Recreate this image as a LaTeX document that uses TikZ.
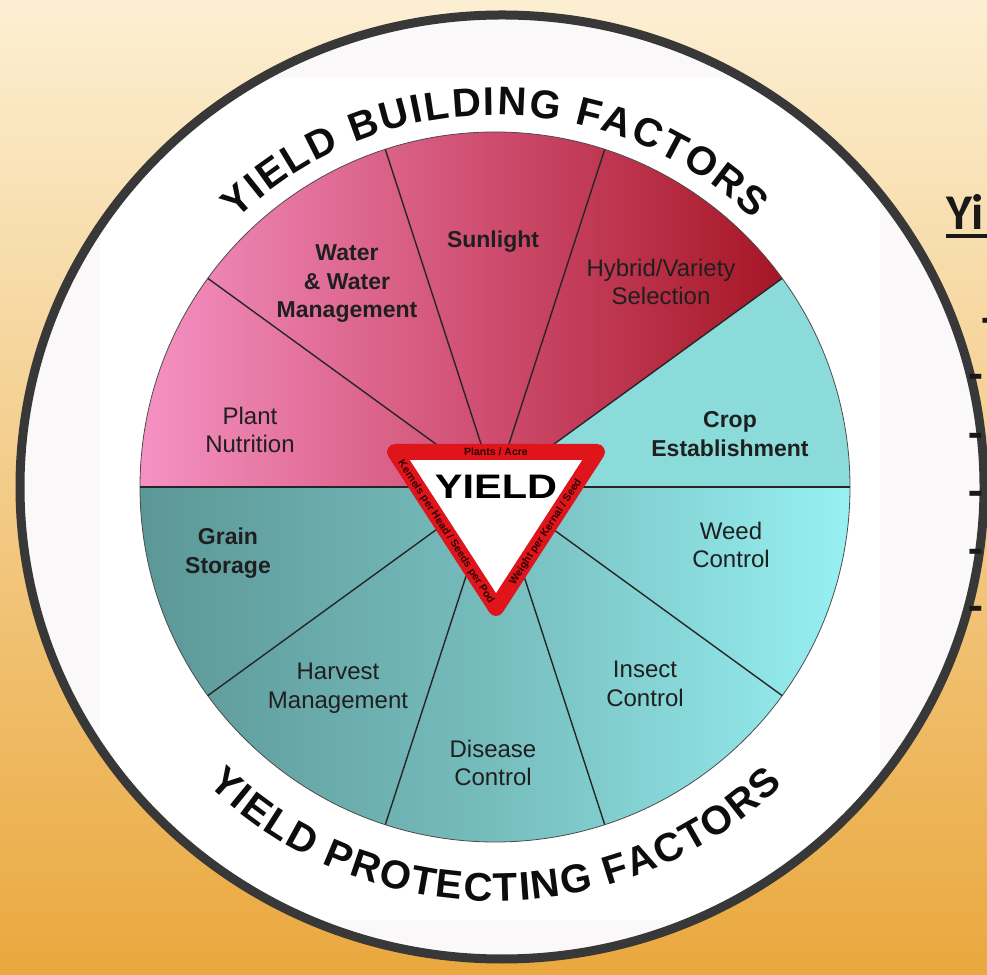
\documentclass[tikz,border=0pt]{standalone}
\usepackage{fontspec}
\setmainfont{Liberation Sans}
\newfontfamily\slidefont{Carlito}
\usetikzlibrary{decorations.text}

\definecolor{goldlight}{HTML}{FCEFD2}
\definecolor{goldmid}{HTML}{F6D38A}
\definecolor{golddark}{HTML}{EAA83E}
\definecolor{ringgray}{HTML}{383838}
\definecolor{paper}{HTML}{FAF8F9}
\definecolor{pinklight}{HTML}{F592C4}
\definecolor{pinkmid}{HTML}{CE4C6E}
\definecolor{reddark}{HTML}{9C0812}
\definecolor{tealdark}{HTML}{5C9797}
\definecolor{tealmid}{HTML}{77BDBE}
\definecolor{teallight}{HTML}{97F0F2}
\definecolor{cropcyan}{HTML}{8CDBDB}
\definecolor{signred}{HTML}{E0141B}
\definecolor{labelink}{HTML}{1F1F1F}
\definecolor{bandink}{HTML}{2A0404}

\tikzset{
  factor/.style={align=center, text=labelink, inner sep=0pt,
    font=\fontsize{24}{28.5}\selectfont},
  factorbold/.style={factor, font=\fontsize{23}{28.5}\selectfont\bfseries},
  divider/.style={line width=1.4, black!85},
  bandtext/.style={text=bandink, inner sep=0pt,
    font=\fontsize{10.5}{11}\selectfont\bfseries},
  dashmark/.style={anchor=mid, inner sep=0pt, text=black!90,
    font=\slidefont\bfseries\fontsize{48}{48}\selectfont}
}

\begin{document}
\begin{tikzpicture}[x=1pt, y=1pt]

    % Background
    \useasboundingbox (0,0) rectangle (987,974);
    \shade[top color=goldlight, middle color=goldmid, bottom color=golddark] (0,0) rectangle (987,974);

    % White disc with the ring
    \fill[paper] (502,487) ellipse [x radius=482, y radius=472];
    \begin{scope}
        \clip (502,487) ellipse [x radius=482, y radius=472];
        \fill[white] (100,54) rectangle (880,896);
    \end{scope}
    \draw[ringgray, line width=9] (502,487) ellipse [x radius=482, y radius=472];

    % Wheel
    \coordinate (c) at (495,487);
    \begin{scope}
        \clip (c) -- ++(36:355) arc[start angle=36, end angle=180, radius=355] -- cycle;
        \shade[left color=pinklight, right color=reddark, middle color=pinkmid] (140,487) rectangle (850,842);
    \end{scope}
    \begin{scope}
        \clip (c) -- ++(180:355) arc[start angle=180, end angle=360, radius=355] -- cycle;
        \shade[left color=tealdark, right color=teallight, middle color=tealmid] (140,132) rectangle (850,487);
    \end{scope}
    \fill[cropcyan] (c) -- ++(0:355) arc[start angle=0, end angle=36, radius=355] -- cycle;
    \draw[black!70, line width=0.8] (c) circle[radius=355];
    \foreach \a in {0,36,...,324}
        \draw[divider] (c) -- ++(\a:355);

    % Labels
    \node[factor] (plant) at (250,544) {Plant\\Nutrition};
    \node[factorbold] (water) at (347,690) {Water\\\& Water\\Management};
    \node[factorbold] (sun) at (493,732) {Sunlight};
    \node[factor] (hybrid) at (661,692) {Hybrid/Variety\\Selection};
    \node[factorbold] (crop) at (730,540) {Crop\\Establishment};
    \node[factor] (weed) at (731,429) {Weed\\Control};
    \node[factor] (insect) at (645,290) {Insect\\Control};
    \node[factor] (disease) at (493,211) {Disease\\Control};
    \node[factor] (harvest) at (338,286) {Harvest\\Management};
    \node[factorbold] (grain) at (228,421) {Grain\\Storage};

    % Yield sign
    \draw[signred, line width=16, line join=round, fill=white] (395,522) -- (597,522) -- (496,366) -- cycle;
    \node[font=\fontsize{34}{34}\selectfont\bfseries, inner sep=0pt] (yield) at (496,487) {\scalebox{1.22}[1]{YIELD}};
    \node[bandtext] (acre) at (496,522) {Plants / Acre};
    \node[bandtext, rotate=-57] (kernels) at (446,442) {Kernels per Head / Seeds per Pod};
    \node[bandtext, rotate=57] (weight) at (546,442) {Weight per Kernal / Seed};

    % Ring titles
    \path[decorate, decoration={text along path, text align=fit to path, text color=black!95,
        text={|\fontsize{40}{40}\selectfont\bfseries|YIELD BUILDING FACTORS}}]
        ([shift={(134:372)}]c) arc[start angle=134, end angle=46, radius=372];
    \path[decorate, decoration={text along path, text align=fit to path, text color=black!95,
        text={|\fontsize{40}{40}\selectfont\bfseries|YIELD PROTECTING FACTORS}}]
        ([shift={(226:414)}]c) arc[start angle=226, end angle=314, radius=414];

    % Slide text at the edge
    \node[font=\slidefont\bfseries\fontsize{50}{50}\selectfont, anchor=base west, inner sep=0pt, text=black!90] (yi) at (946,744) {Yi};
    \draw[line width=3.5, black!90] ([yshift=-6]yi.base west) -- ++(60,0);
    \foreach \y/\x in {642/989, 586/976, 527/976, 469/976, 411/976, 354/976}
        \node[dashmark] (dash\y) at (\x,\y) {-};

\end{tikzpicture}
\end{document}
